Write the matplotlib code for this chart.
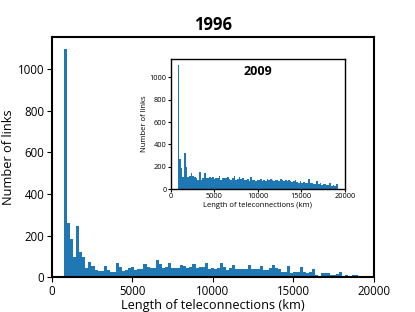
import numpy as np
import matplotlib
matplotlib.use("Agg")
import matplotlib.pyplot as plt

plt.rcParams['font.family'] = ['Open Sans', 'DejaVu Sans']

# histogram bins (km)
bin_start = 750
bin_width = 190

# 1996 counts per bin
counts_1996 = [1100, 262, 182, 95, 246, 119, 95, 45, 72, 53,
               35, 29, 29, 53, 32, 26, 26, 69, 50, 31,
               32, 45, 47, 35, 37, 37, 64, 50, 42, 42,
               82, 63, 42, 50, 69, 42, 42, 45, 58, 53,
               42, 50, 63, 42, 50, 50, 66, 39, 42, 37,
               42, 69, 47, 34, 42, 58, 39, 37, 37, 37,
               58, 37, 37, 37, 53, 34, 35, 45, 60, 46,
               40, 22, 22, 52, 21, 23, 23, 50, 23, 18,
               23, 39, 10, 2, 18, 18, 18, 10, 10, 13,
               23, 3, 10, 6, 8, 8, 2]

# 2009 counts per bin
counts_2009 = [1110, 265, 185, 110, 325, 195, 110, 120, 140, 115,
               105, 95, 80, 150, 85, 100, 140, 95, 100, 105,
               100, 105, 90, 95, 100, 120, 85, 95, 95, 100,
               110, 90, 85, 95, 115, 85, 90, 105, 90, 95,
               80, 85, 90, 75, 105, 80, 85, 75, 80, 85,
               90, 75, 80, 72, 88, 78, 92, 80, 68, 78,
               82, 68, 92, 78, 72, 82, 68, 78, 72, 62,
               68, 78, 62, 58, 72, 52, 62, 58, 52, 88,
               52, 58, 44, 48, 68, 44, 52, 40, 48, 44,
               35, 40, 50, 30, 40, 25, 45]


def draw_hist(ax, counts):
    n = len(counts)
    edges = bin_start + bin_width * np.arange(n + 1)
    centers = (edges[:-1] + edges[1:]) / 2
    ax.hist(centers, bins=edges, weights=counts, color='#1f77b4')
    ax.set_xlim(0, 20000)
    ax.set_xticks([0, 5000, 10000, 15000, 20000])


fig = plt.figure(figsize=(4.15, 3.12), dpi=100)

ax = fig.add_axes([0.125, 0.112, 0.776, 0.769])
draw_hist(ax, counts_1996)
ax.set_yticks([0, 200, 400, 600, 800, 1000])
ax.set_title('1996', fontsize=12, fontweight='bold', pad=5)
ax.set_xlabel('Length of teleconnections (km)', fontsize=9.2, labelpad=1)
ax.set_ylabel('Number of links', fontsize=9.2, labelpad=2)
ax.tick_params(labelsize=8.3, pad=2)
for s in ax.spines.values():
    s.set_linewidth(1.5)

axin = fig.add_axes([0.412, 0.394, 0.419, 0.417])
draw_hist(axin, counts_2009)
axin.set_yticks([0, 200, 400, 600, 800, 1000])
axin.text(0.5, 0.9, '2009', transform=axin.transAxes, ha='center', va='center',
          fontsize=9, fontweight='bold')
axin.set_xlabel('Length of teleconnections (km)', fontsize=5.5, labelpad=1)
axin.set_ylabel('Number of links', fontsize=5.5, labelpad=1)
axin.tick_params(labelsize=5.3, pad=1, length=2)
for s in axin.spines.values():
    s.set_linewidth(1.0)

fig.savefig('out.png', dpi=100)
